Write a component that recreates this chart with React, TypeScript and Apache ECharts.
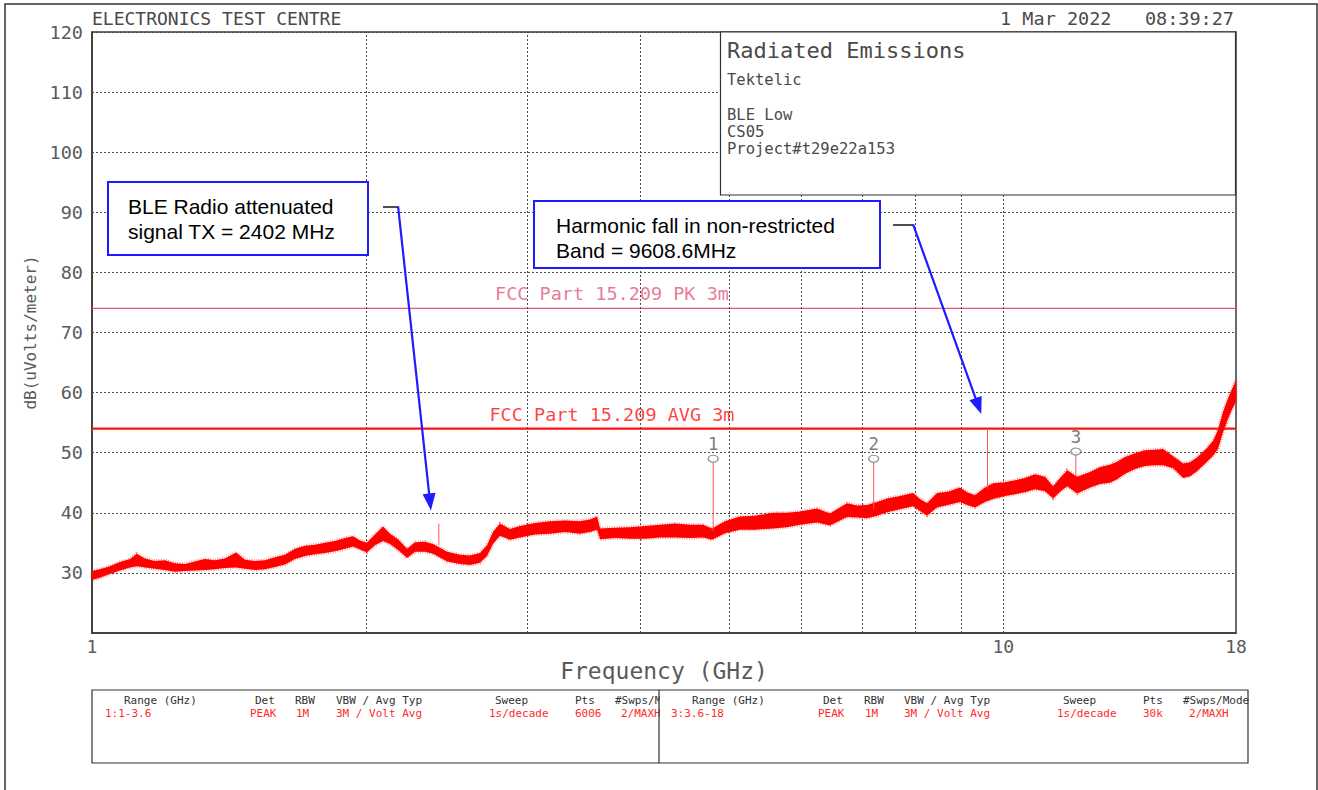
import React, { useEffect, useRef } from "react";
import * as echarts from "echarts";

const MONO = '"DejaVu Sans Mono", "Liberation Mono", monospace';
const SANS = '"Liberation Sans", Arial, sans-serif';

// Measured emission trace: frequency (GHz) with lower / upper edge of the noisy peak-hold band (dBuV/m)
const freqGHz = [
  1.0, 1.02, 1.046, 1.073, 1.101, 1.12, 1.143, 1.172, 1.202, 1.233, 1.265, 1.297, 1.33, 1.364, 1.399,
  1.439, 1.472, 1.51, 1.548, 1.588, 1.628, 1.67, 1.713, 1.757, 1.802, 1.848, 1.895, 1.934, 1.968, 2.003,
  2.044, 2.086, 2.123, 2.167, 2.217, 2.262, 2.32, 2.367, 2.453, 2.534, 2.599, 2.665, 2.713, 2.754, 2.803,
  2.875, 2.949, 3.063, 3.181, 3.304, 3.431, 3.519, 3.583, 3.61, 3.749, 3.894, 4.045, 4.201, 4.363, 4.532,
  4.683, 4.79, 4.95, 5.141, 5.339, 5.588, 5.789, 5.982, 6.245, 6.454, 6.737, 6.909, 7.086, 7.267, 7.453,
  7.702, 7.959, 8.101, 8.246, 8.457, 8.694, 8.963, 9.123, 9.309, 9.547, 9.743, 10.04, 10.3, 10.56, 10.83,
  11.11, 11.34, 11.54, 11.75, 12.05, 12.45, 12.77, 13.09, 13.33, 13.6, 13.95, 14.3, 14.67, 14.97, 15.36,
  15.75, 16.03, 16.31, 16.73, 16.99, 17.2, 17.42, 17.64, 17.82, 18.0,
];
const traceLow = [
  28.8, 29.2, 29.8, 30.4, 30.9, 31.1, 30.9, 30.7, 30.5, 30.2, 30.3, 30.4, 30.5, 30.6, 30.8,
  30.9, 30.7, 30.5, 30.6, 31.0, 31.4, 32.3, 32.8, 33.1, 33.3, 33.6, 34.0, 34.4, 33.9, 33.4,
  34.6, 35.3, 34.8, 33.8, 32.5, 33.5, 33.5, 33.2, 31.9, 31.5, 31.3, 31.7, 32.8, 34.8, 36.2,
  35.5, 35.9, 36.4, 36.5, 36.8, 36.5, 36.8, 37.2, 35.6, 35.8, 35.7, 35.7, 35.9, 35.9, 35.8,
  35.9, 35.5, 36.6, 37.2, 37.2, 37.4, 37.6, 38.0, 38.4, 37.9, 39.3, 39.2, 39.1, 39.5, 40.1,
  40.6, 41.1, 40.3, 39.5, 40.9, 41.3, 41.8, 41.3, 40.9, 41.8, 42.3, 42.8, 43.1, 43.4, 43.9,
  43.6, 42.4, 43.5, 44.4, 43.2, 44.2, 44.8, 45.0, 45.6, 46.5, 47.3, 47.8, 47.9, 47.9, 47.4,
  45.8, 46.1, 46.9, 48.5, 49.5, 50.6, 53.4, 55.6, 57.2, 58.5,
];
const traceHigh = [
  30.3, 30.6, 31.1, 31.8, 32.3, 33.2, 32.4, 32.0, 32.1, 31.6, 31.5, 31.9, 32.3, 32.1, 32.4,
  33.4, 32.2, 32.0, 32.1, 32.6, 33.0, 34.0, 34.5, 34.7, 35.0, 35.3, 35.8, 36.1, 35.4, 35.0,
  36.4, 37.7, 36.5, 35.6, 34.0, 35.1, 35.2, 34.8, 33.5, 33.0, 32.9, 33.3, 34.6, 36.8, 38.2,
  37.3, 37.8, 38.3, 38.6, 38.7, 38.6, 38.9, 39.4, 37.4, 37.5, 37.6, 37.8, 38.0, 38.2, 38.0,
  38.0, 37.4, 38.6, 39.4, 39.5, 40.0, 40.0, 40.2, 40.7, 39.9, 41.6, 41.2, 41.3, 41.8, 42.4,
  42.8, 43.3, 42.3, 41.6, 43.3, 43.5, 44.2, 43.4, 42.9, 44.2, 44.9, 45.1, 45.4, 45.8, 46.4,
  46.0, 44.4, 45.8, 47.1, 46.0, 46.8, 47.6, 48.0, 48.5, 49.3, 49.9, 50.4, 50.5, 50.6, 49.4,
  48.2, 48.4, 49.2, 50.8, 52.0, 53.8, 56.8, 59.0, 60.6, 62.0,
];

// Narrow emissions: fundamental and harmonics of the 2402 MHz carrier
const spikeFreq = [2.402, 4.804, 7.206, 9.608, 12.01];
const spikeBase = [34.6, 37.0, 40.6, 44.0, 46.2];
const spikeTop = [38.2, 49.0, 49.0, 54.0, 50.2];

// Analyzer markers
const markerNames = ["1", "2", "3"];
const markerFreq = [4.804, 7.206, 12.01];
const markerLevel = [49.0, 49.0, 50.2];

// Limit lines
const limitNames = ["FCC Part 15.209 PK 3m", "FCC Part 15.209 AVG 3m"];
const limitLevels = [74, 54];
const limitColors = ["#e2587c", "#ff1010"];
const limitWidths = [1.2, 2.2];
const limitLabelFreq = 3.72;

// Log-decade grid lines
const xGridFreq = [2, 3, 4, 5, 6, 7, 8, 9, 10];

// Annotation arrows: [freq, level] for knee, bend and arrowhead
const arrowKnee = [[2.086, 91.0], [7.568, 88.0]];
const arrowBend = [[2.167, 91.0], [7.961, 88.0]];
const arrowHead = [[2.349, 41.8], [9.389, 57.75]];

// Header / info texts
const siteName = "ELECTRONICS TEST CENTRE";
const stamp = "1 Mar 2022   08:39:27";
const infoTitle = "Radiated Emissions";
const infoLines = ["Tektelic", "", "BLE Low", "CS05", "Project#t29e22a153"];
const noteA = ["BLE Radio attenuated", "signal TX = 2402 MHz"];
const noteB = ["Harmonic fall in non-restricted", "Band = 9608.6MHz"];

// Sweep settings table
const tableHeads = ["Range (GHz)", "Det", "RBW", "VBW / Avg Typ", "Sweep", "Pts", "#Swps/Mode"];
const rangeA = ["1:1-3.6", "PEAK", "1M", "3M / Volt Avg", "1s/decade", "6006", "2/MAXH"];
const rangeB = ["3:3.6-18", "PEAK", "1M", "3M / Volt Avg", "1s/decade", "30k", "2/MAXH"];

const headX = [[124, 255, 295, 336, 495, 575, 615], [692, 823, 864, 904, 1063, 1143, 1183]];
const valX = [[105, 250, 296, 336, 489, 575, 621], [671, 818, 865, 904, 1057, 1143, 1189]];

const GRID_COLOR = "#4a4a4a";
const TEXT_GRAY = "#5a5a5a";
const BLUE = "#1c1cff";

function buildOption() {
  const graphics: any[] = [];

  // outer page frame
  graphics.push({
    type: "rect", z: 1, silent: true,
    shape: { x: 5, y: 4, width: 1312, height: 820 },
    style: { fill: "none", stroke: "#333", lineWidth: 1.5 },
  });
  graphics.push({
    type: "text", x: 92, y: 18, z: 100,
    style: { text: siteName, fontFamily: MONO, fontSize: 18, fill: "#4a4a4a", align: "left", verticalAlign: "middle" },
  });
  graphics.push({
    type: "text", x: 1234, y: 18, z: 100,
    style: { text: stamp, fontFamily: MONO, fontSize: 18.5, fill: "#4a4a4a", align: "right", verticalAlign: "middle" },
  });

  // info box
  graphics.push({
    type: "rect", z: 90,
    shape: { x: 720.5, y: 32, width: 515, height: 163 },
    style: { fill: "#fff", stroke: "#333", lineWidth: 1.2 },
  });
  graphics.push({
    type: "text", x: 727, y: 50, z: 100,
    style: { text: infoTitle, fontFamily: MONO, fontSize: 22, fill: "#4a4a4a", align: "left", verticalAlign: "middle" },
  });
  const infoY = [80, 97, 115, 132, 149];
  infoLines.forEach((t, i) => {
    if (!t) return;
    graphics.push({
      type: "text", x: 727, y: infoY[i], z: 100,
      style: { text: t, fontFamily: MONO, fontSize: 15.5, fill: "#4a4a4a", align: "left", verticalAlign: "middle" },
    });
  });

  // annotation boxes
  const boxes = [
    { x: 108, y: 182, w: 260, h: 73, lines: noteA, tx: 128, ty: [206, 231] },
    { x: 534, y: 201, w: 346, h: 67, lines: noteB, tx: 556, ty: [225, 250] },
  ];
  boxes.forEach((b) => {
    graphics.push({
      type: "rect", z: 90,
      shape: { x: b.x, y: b.y, width: b.w, height: b.h },
      style: { fill: "#fff", stroke: BLUE, lineWidth: 2 },
    });
    b.lines.forEach((t, i) => {
      graphics.push({
        type: "text", x: b.tx, y: b.ty[i], z: 100,
        style: { text: t, fontFamily: SANS, fontSize: 21, fill: "#000", align: "left", verticalAlign: "middle" },
      });
    });
  });

  // sweep table
  graphics.push({
    type: "rect", z: 90,
    shape: { x: 92, y: 690, width: 1156, height: 73 },
    style: { fill: "#fff", stroke: "#333", lineWidth: 1.2 },
  });
  [rangeA, rangeB].forEach((row, r) => {
    tableHeads.forEach((h, c) => {
      graphics.push({
        type: "text", x: headX[r][c], y: 700, z: 100,
        style: { text: h, fontFamily: MONO, fontSize: 11, fill: "#333", align: "left", verticalAlign: "middle" },
      });
    });
    row.forEach((v, c) => {
      graphics.push({
        type: "text", x: valX[r][c], y: 713, z: 100,
        style: { text: v, fontFamily: MONO, fontSize: 11, fill: "#ff2a2a", align: "left", verticalAlign: "middle" },
      });
    });
  });
  // left half is cut at the divider
  graphics.push({ type: "rect", z: 101, shape: { x: 660, y: 692, width: 30, height: 14 }, style: { fill: "#fff" } });
  graphics.push({ type: "rect", z: 101, shape: { x: 660, y: 706, width: 9, height: 14 }, style: { fill: "#fff" } });
  graphics.push({
    type: "line", z: 102,
    shape: { x1: 659, y1: 690, x2: 659, y2: 763 },
    style: { stroke: "#333", lineWidth: 1.2 },
  });

  const arrowLines: any[] = [];
  arrowKnee.forEach((k, i) => {
    arrowLines.push([
      { coord: k, symbol: "none", lineStyle: { color: "#222", width: 1.6, type: "solid" } },
      { coord: arrowBend[i], symbol: "none" },
    ]);
    arrowLines.push([
      { coord: arrowBend[i], symbol: "none", lineStyle: { color: BLUE, width: 2.2, type: "solid" } },
      { coord: arrowHead[i], symbol: "triangle", symbolSize: [13, 17] },
    ]);
  });

  return {
    animation: false,
    backgroundColor: "#fff",
    grid: {
      left: 92, top: 32, right: 82, bottom: 157,
      show: true, borderColor: "#3a3a3a", borderWidth: 1.5, backgroundColor: "transparent",
    },
    xAxis: {
      type: "log", logBase: 10, min: 1, max: 18,
      name: "Frequency (GHz)", nameLocation: "middle", nameGap: 26,
      nameTextStyle: { fontFamily: MONO, fontSize: 23, color: TEXT_GRAY },
      axisLine: { show: true, lineStyle: { color: "#3a3a3a", width: 1.5 } },
      axisTick: { show: false },
      splitLine: { show: false },
      axisLabel: {
        fontFamily: MONO, fontSize: 18, color: TEXT_GRAY, margin: 4,
        formatter: (v: number) => String(Math.round(v)),
      },
    },
    yAxis: {
      type: "value", min: 20, max: 120, interval: 10,
      name: "dB(uVolts/meter)", nameLocation: "middle", nameGap: 50, nameRotate: 90,
      nameTextStyle: { fontFamily: MONO, fontSize: 16, color: TEXT_GRAY },
      axisLine: { show: true, lineStyle: { color: "#3a3a3a", width: 1.5 } },
      axisTick: { show: false },
      splitLine: { show: true, lineStyle: { color: GRID_COLOR, width: 1, type: [2, 2] } },
      axisLabel: {
        fontFamily: MONO, fontSize: 18.5, color: TEXT_GRAY, margin: 9,
        formatter: (v: number) => (v === 20 ? "" : String(v)),
      },
    },
    graphic: graphics,
    series: [
      {
        name: "grid",
        type: "line",
        data: [],
        silent: true,
        z: 1,
        markLine: {
          silent: true,
          symbol: ["none", "none"],
          label: { show: false },
          lineStyle: { color: GRID_COLOR, width: 1, type: [2, 2] },
          data: xGridFreq.map((f) => ({ xAxis: f })),
        },
      },
      ...limitNames.map((n, i) => ({
        name: n,
        type: "line",
        data: [[1, limitLevels[i]], [18, limitLevels[i]]],
        symbol: "none",
        silent: true,
        z: 3,
        lineStyle: { color: limitColors[i], width: limitWidths[i] },
      })),
      {
        name: "limit labels",
        type: "scatter",
        symbolSize: 0,
        silent: true,
        z: 4,
        data: limitNames.map((n, i) => ({
          name: n,
          value: [limitLabelFreq, limitLevels[i]],
          label: { color: limitColors[i] },
        })),
        label: {
          show: true, position: "top", distance: 5, formatter: "{b}",
          fontFamily: MONO, fontSize: 18.5,
        },
      },
      {
        name: "trace",
        type: "custom",
        coordinateSystem: "cartesian2d",
        silent: true,
        z: 5,
        encode: { x: 0, y: [1, 2] },
        data: freqGHz.map((f, i) => [f, traceLow[i], traceHigh[i]]),
        renderItem: (params: any, api: any) => {
          if (params.dataIndex !== 0) return null;
          const upper = freqGHz.map((f, i) => api.coord([f, traceHigh[i]]));
          const lower = freqGHz.map((f, i) => api.coord([f, traceLow[i]])).reverse();
          return {
            type: "group",
            children: [
              {
                // stippled fringe along the band edges (peak-hold noise)
                type: "polygon",
                shape: { points: upper.concat(lower) },
                style: { fill: "none", stroke: "rgba(255,30,30,0.6)", lineWidth: 3.2, lineDash: [0.8, 1.6] },
              },
              {
                type: "polygon",
                shape: { points: upper.concat(lower) },
                style: { fill: "#ff0000", stroke: "none" },
              },
            ],
          };
        },
      },
      {
        name: "spikes",
        type: "custom",
        coordinateSystem: "cartesian2d",
        silent: true,
        z: 6,
        encode: { x: 0, y: [1, 2] },
        data: spikeFreq.map((f, i) => [f, spikeBase[i], spikeTop[i]]),
        renderItem: (params: any, api: any) => {
          const a = api.coord([api.value(0), api.value(1)]);
          const b = api.coord([api.value(0), api.value(2)]);
          return {
            type: "line",
            shape: { x1: a[0], y1: a[1], x2: b[0], y2: b[1] },
            style: { stroke: "#ff5555", lineWidth: 1 },
          };
        },
      },
      {
        name: "markers",
        type: "scatter",
        silent: true,
        z: 7,
        symbol: "circle",
        symbolSize: [10, 7],
        itemStyle: { color: "#fff", borderColor: "#777", borderWidth: 1.2 },
        data: markerFreq.map((f, i) => ({ name: markerNames[i], value: [f, markerLevel[i]] })),
        label: {
          show: true, position: "top", distance: 2, formatter: "{b}",
          fontFamily: MONO, fontSize: 18, color: TEXT_GRAY,
        },
      },
      {
        name: "annotations",
        type: "line",
        data: [],
        silent: true,
        z: 8,
        markLine: {
          silent: true,
          label: { show: false },
          symbol: ["none", "none"],
          data: arrowLines,
        },
      },
    ],
  };
}

export default function App() {
  const ref = useRef<HTMLDivElement>(null);
  useEffect(() => {
    if (!ref.current) return;
    const chart = echarts.init(ref.current, undefined, { renderer: "svg" });
    chart.setOption(buildOption() as any);
    return () => chart.dispose();
  }, []);
  return (
    <div
      ref={ref}
      style={{ position: "absolute", left: 0, top: 0, width: 1318, height: 790, background: "#fff" }}
    />
  );
}
